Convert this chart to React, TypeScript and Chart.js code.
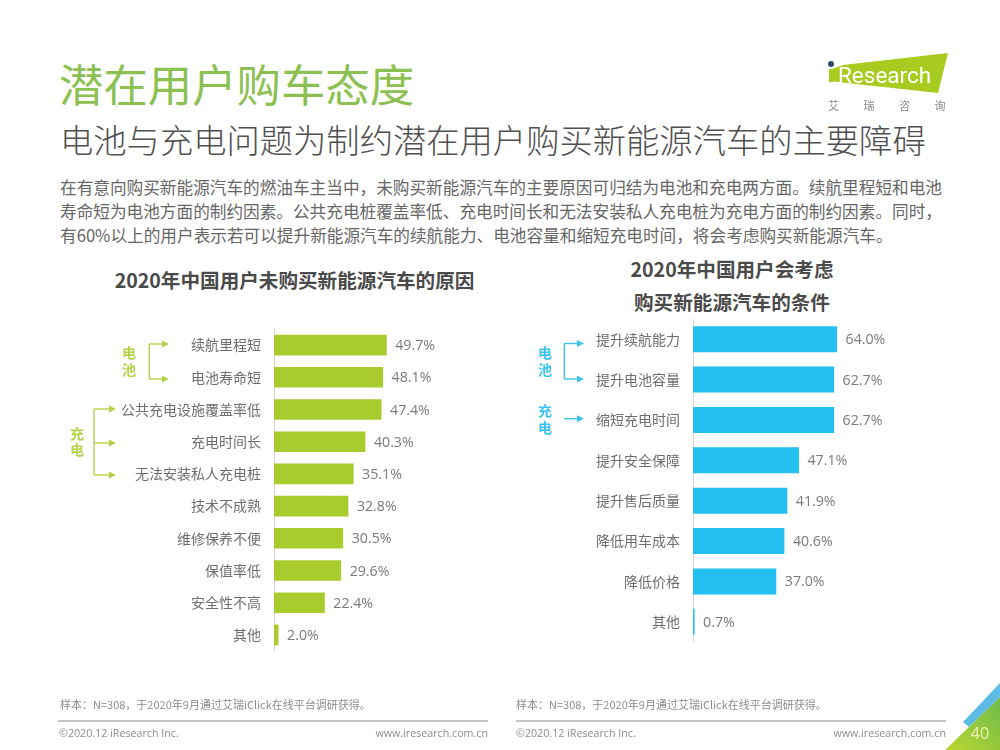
import React, { useEffect, useRef } from "react";
import { Chart, registerables } from "chart.js";
Chart.register(...registerables);

const leftCategories = ["续航里程短", "电池寿命短", "公共充电设施覆盖率低", "充电时间长", "无法安装私人充电桩", "技术不成熟", "维修保养不便", "保值率低", "安全性不高", "其他"];
const leftValues = [49.7, 48.1, 47.4, 40.3, 35.1, 32.8, 30.5, 29.6, 22.4, 2.0];
const rightCategories = ["提升续航能力", "提升电池容量", "缩短充电时间", "提升安全保障", "提升售后质量", "降低用车成本", "降低价格", "其他"];
const rightValues = [64.0, 62.7, 62.7, 47.1, 41.9, 40.6, 37.0, 0.7];

const CJK = '"Noto Sans CJK SC", "Noto Sans", sans-serif';
const LATIN = '"Open Sans", "Noto Sans CJK SC", sans-serif';
const GREEN = "#a9cb2e";
const BLUE = "#22bff0";
const LINE_GREEN = "#b4d24a";
const LINE_BLUE = "#3cc4ee";

const valueLabels = {
  id: "valueLabels",
  afterDatasetsDraw(chart: any) {
    const { ctx } = chart;
    const meta = chart.getDatasetMeta(0);
    const values = chart.data.datasets[0].data as number[];
    ctx.save();
    ctx.font = `14.2px ${LATIN}`;
    ctx.fillStyle = "#7a7a7a";
    ctx.textAlign = "left";
    ctx.textBaseline = "middle";
    meta.data.forEach((bar: any, i: number) => {
      ctx.fillText(values[i].toFixed(1) + "%", bar.x + 8.5, bar.y + 1);
    });
    ctx.restore();
  },
};

function BarChart(props: { labels: string[]; values: number[]; color: string; axisWidth: number; max: number; ratio: number; style: React.CSSProperties; width: number; height: number }) {
  const ref = useRef<HTMLCanvasElement>(null);
  useEffect(() => {
    const chart = new Chart(ref.current!, {
      type: "bar",
      data: {
        labels: props.labels,
        datasets: [{ data: props.values, backgroundColor: props.color, barPercentage: props.ratio, categoryPercentage: 1 }],
      },
      options: {
        indexAxis: "y",
        animation: false,
        responsive: false,
        devicePixelRatio: 1,
        layout: { padding: 0 },
        plugins: { legend: { display: false }, tooltip: { enabled: false }, title: { display: false } },
        scales: {
          x: { display: false, min: 0, max: props.max },
          y: {
            afterFit(axis: any) {
              axis.width = props.axisWidth;
              axis.paddingTop = 0;
              axis.paddingBottom = 0;
            },
            grid: { display: false, drawTicks: false },
            border: { display: true, color: "#d4d8d8", width: 1 },
            ticks: { padding: 13, color: "#6e6e6e", font: { family: CJK, size: 14 }, autoSkip: false },
          },
        },
      },
      plugins: [valueLabels],
    } as any);
    return () => chart.destroy();
  }, []);
  return <canvas ref={ref} width={props.width} height={props.height} style={{ position: "absolute", ...props.style }} />;
}

function T(p: { x: number; y: number; s: number; c: string; w?: number; a?: "left" | "right" | "center"; f?: string; children: React.ReactNode; ls?: number }) {
  const tx = p.a === "right" ? "-100%" : p.a === "center" ? "-50%" : "0";
  return (
    <div style={{ position: "absolute", left: p.x, top: p.y, transform: `translate(${tx}, -50%)`, fontSize: p.s, color: p.c, fontWeight: p.w ?? 400, fontFamily: p.f ?? CJK, whiteSpace: "nowrap", lineHeight: 1, letterSpacing: p.ls ?? 0 }}>
      {p.children}
    </div>
  );
}

function Arrow({ x1, x2, y, c }: { x1: number; x2: number; y: number; c: string }) {
  return (
    <g>
      <line x1={x1} x2={x2 - 6} y1={y} y2={y} stroke={c} strokeWidth={1.4} />
      <polygon points={`${x2 - 7},${y - 3.5} ${x2},${y} ${x2 - 7},${y + 3.5}`} fill={c} />
    </g>
  );
}

export default function App() {
  return (
    <div style={{ position: "fixed", left: 0, top: 0, width: 1000, height: 750, background: "#fff", overflow: "hidden", filter: "blur(0.55px)" }}>
      <T x={59} y={83} s={44.4} c="#8cc152" w={400}>潜在用户购车态度</T>
      <T x={60} y={139} s={33.3} c="#505050" w={300}>电池与充电问题为制约潜在用户购买新能源汽车的主要障碍</T>
      <T x={60} y={187} s={16.65} c="#666666">在有意向购买新能源汽车的燃油车主当中，未购买新能源汽车的主要原因可归结为电池和充电两方面。续航里程短和电池</T>
      <T x={60} y={211} s={16.65} c="#666666">寿命短为电池方面的制约因素。公共充电桩覆盖率低、充电时间长和无法安装私人充电桩为充电方面的制约因素。同时，</T>
      <T x={60} y={235} s={16.65} c="#666666">有60%以上的用户表示若可以提升新能源汽车的续航能力、电池容量和缩短充电时间，将会考虑购买新能源汽车。</T>

      <T x={294.5} y={280} s={19.6} c="#4a4a4a" w={700} a="center">2020年中国用户未购买新能源汽车的原因</T>
      <T x={732} y={269} s={19.6} c="#4a4a4a" w={700} a="center">2020年中国用户会考虑</T>
      <T x={732} y={302} s={19.6} c="#4a4a4a" w={700} a="center">购买新能源汽车的条件</T>

      <BarChart labels={leftCategories} values={leftValues} color={GREEN} axisWidth={214} max={82} ratio={0.64} width={400} height={322} style={{ left: 60, top: 329 }} />
      <BarChart labels={rightCategories} values={rightValues} color={BLUE} axisWidth={163} max={105.3} ratio={0.645} width={400} height={323} style={{ left: 530, top: 319 }} />

      <svg width={1000} height={750} style={{ position: "absolute", left: 0, top: 0 }}>
        <defs>
          <linearGradient id="corner" x1="0" y1="1" x2="1" y2="0">
            <stop offset="0" stopColor="#bcd62f" />
            <stop offset="1" stopColor="#6dbb4b" />
          </linearGradient>
        </defs>
        <path d="M149.3 344 V379" stroke={LINE_GREEN} strokeWidth={1.4} fill="none" />
        <Arrow x1={149} x2={169} y={344} c={LINE_GREEN} />
        <Arrow x1={149} x2={169} y={379} c={LINE_GREEN} />
        <path d="M94 409 V475" stroke={LINE_GREEN} strokeWidth={1.4} fill="none" />
        <Arrow x1={94} x2={116} y={409} c={LINE_GREEN} />
        <Arrow x1={94} x2={116} y={443} c={LINE_GREEN} />
        <Arrow x1={94} x2={116} y={475} c={LINE_GREEN} />
        <path d="M564.3 343.5 V379" stroke={LINE_BLUE} strokeWidth={1.4} fill="none" />
        <Arrow x1={564} x2={584} y={343.5} c={LINE_BLUE} />
        <Arrow x1={564} x2={584} y={379} c={LINE_BLUE} />
        <Arrow x1={564} x2={584} y={418.7} c={LINE_BLUE} />

        <polygon points="843,65 948,53 938,93 829,81 829,70" fill="#a9cb1f" />
        <rect x="829" y="69" width="4" height="13" fill="#a9cb1f" />
        <circle cx="831" cy="64" r="3" fill="#34476e" />

        <polygon points="963,722 1000,683 1000,697 969,727" fill="#5cbce6" />
        <polygon points="945,750 969,727 1000,697 1000,750" fill="url(#corner)" />
      </svg>

      <T x={129} y={352} s={14} c={LINE_GREEN} w={700} a="center">电</T>
      <T x={129} y={369} s={14} c={LINE_GREEN} w={700} a="center">池</T>
      <T x={77} y={433} s={14} c={LINE_GREEN} w={700} a="center">充</T>
      <T x={77} y={449} s={14} c={LINE_GREEN} w={700} a="center">电</T>
      <T x={545} y={352} s={14} c={LINE_BLUE} w={700} a="center">电</T>
      <T x={545} y={369} s={14} c={LINE_BLUE} w={700} a="center">池</T>
      <T x={545} y={410} s={14} c={LINE_BLUE} w={700} a="center">充</T>
      <T x={545} y={427} s={14} c={LINE_BLUE} w={700} a="center">电</T>

      <T x={838} y={75} s={22.5} c="#ffffff" f="Roboto, sans-serif">Research</T>
      <T x={828} y={105} s={11} c="#8a8a8a" ls={24.5}>艾瑞咨询</T>

      <T x={60} y={704} s={11} c="#8c8c8c">样本：N=308，于2020年9月通过艾瑞iClick在线平台调研获得。</T>
      <T x={516} y={704} s={11} c="#8c8c8c">样本：N=308，于2020年9月通过艾瑞iClick在线平台调研获得。</T>
      <div style={{ position: "absolute", left: 58, top: 720, width: 430, height: 1.5, background: "#c4c4c4" }} />
      <div style={{ position: "absolute", left: 516, top: 720, width: 430, height: 1.5, background: "#c4c4c4" }} />
      <T x={59} y={733} s={10.7} c="#8c8c8c" f={LATIN}>©2020.12 iResearch Inc.</T>
      <T x={516} y={733} s={10.7} c="#8c8c8c" f={LATIN}>©2020.12 iResearch Inc.</T>
      <T x={488} y={733} s={10.7} c="#8c8c8c" f={LATIN} a="right">www.iresearch.com.cn</T>
      <T x={946} y={733} s={10.7} c="#8c8c8c" f={LATIN} a="right">www.iresearch.com.cn</T>
      <T x={980} y={733} s={16} c="#eef4b0" f={LATIN} a="center">40</T>
    </div>
  );
}
